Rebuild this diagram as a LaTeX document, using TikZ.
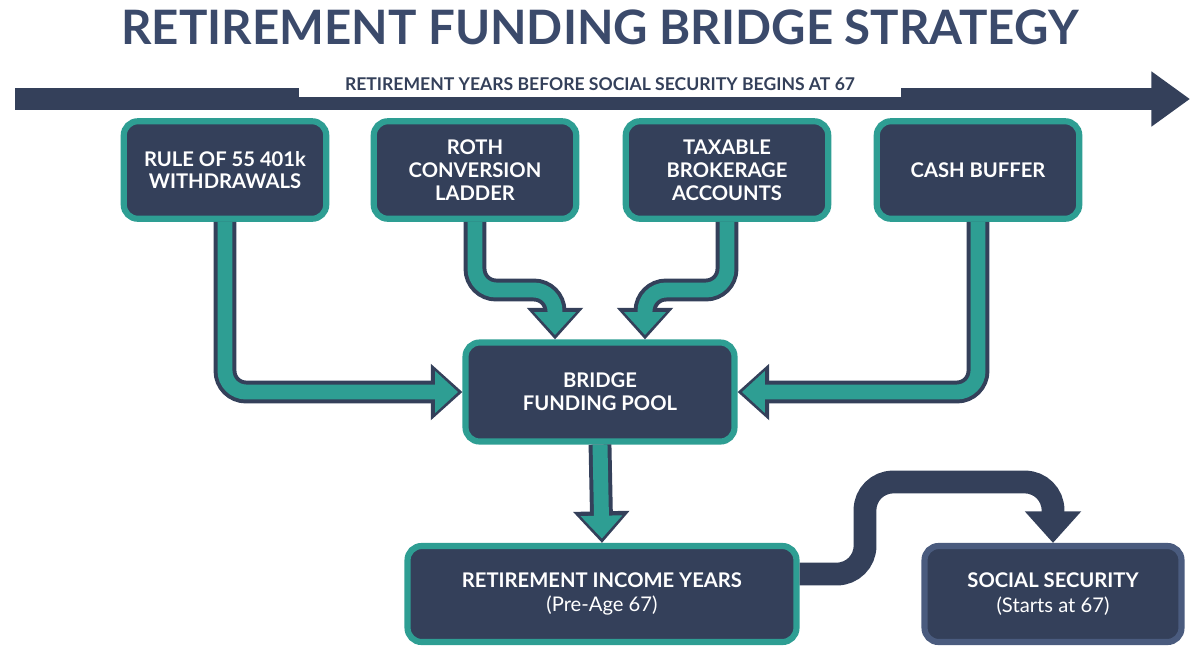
\documentclass[tikz,border=0pt]{standalone}
\usepackage{fontspec}
\setmainfont{Lato}
\usetikzlibrary{arrows.meta,positioning,calc}
\definecolor{navy}{HTML}{34405A}
\definecolor{titleblue}{HTML}{3B4A6B}
\definecolor{tealc}{HTML}{2E9E93}
\definecolor{edgeblue}{HTML}{4A5B7E}
\tikzset{>=stealth,
  box/.style={rounded corners=8pt, fill=navy, draw=tealc, line width=3.5pt,
    text=white, font=\bfseries\fontsize{11.5}{13}\selectfont, align=center},
  flowout/.style={draw=navy, line width=13pt, rounded corners=12pt,
    -{Triangle[width=31pt,length=18pt]}},
  flowin/.style={draw=tealc, line width=8.5pt, rounded corners=12pt,
    -{Triangle[width=23pt,length=13pt]}, shorten >=2.5pt},
}

\begin{document}
\begin{tikzpicture}[x=0.02cm,y=-0.02cm]
\useasboundingbox (0,0) rectangle (1200,654);
\node[text=titleblue, font=\bfseries\fontsize{27}{30}\selectfont] (title) at (600,27) {RETIREMENT FUNDING BRIDGE STRATEGY};
% timeline
\coordinate (tl0) at (15,99);
\coordinate (tl1) at (1190,99);
\draw[navy, line width=12.5pt, -{Triangle[width=30pt,length=22pt]}] (tl0) -- (tl1);
\node[fill=white, text=navy, font=\bfseries\fontsize{10}{12}\selectfont, minimum width=12.04cm, minimum height=0.5cm, inner sep=0pt] (tltext) at (600,84) {RETIREMENT YEARS BEFORE SOCIAL SECURITY BEGINS AT 67};
% sources
\node[box, minimum width=4.05cm, minimum height=1.95cm] (rule) at (225,170) {RULE OF 55 401k\\WITHDRAWALS};
\node[box, minimum width=4.05cm, minimum height=1.95cm] (roth) at (475,170) {ROTH\\CONVERSION\\LADDER};
\node[box, minimum width=4.05cm, minimum height=1.95cm] (tax) at (727,170) {TAXABLE\\BROKERAGE\\ACCOUNTS};
\node[box, minimum width=4.05cm, minimum height=1.95cm] (cash) at (978,170) {CASH BUFFER};
\node[box, minimum width=5.38cm, minimum height=1.98cm] (pool) at (600,392) {BRIDGE\\FUNDING POOL};
\node[box, minimum width=7.78cm, minimum height=1.92cm] (income) at (602,594) {RETIREMENT INCOME YEARS\\[1pt]{\mdseries (Pre-Age 67)}};
\node[box, draw=edgeblue, minimum width=5.14cm, minimum height=1.92cm] (social) at (1053,594) {SOCIAL SECURITY\\[1pt]{\mdseries (Starts at 67)}};
% flows
\coordinate (rj) at (555,290);
\coordinate (tj) at (645,290);
\foreach \sty in {flowout,flowin} {
  \draw[\sty] (rule.south) |- (pool.west);
  \draw[\sty] (cash.south) |- (pool.east);
  \draw[\sty] (roth.south) |- (rj) -- ([xshift=-0.9cm]pool.north);
  \draw[\sty] (tax.south) |- (tj) -- ([xshift=0.9cm]pool.north);
  \draw[\sty] (pool.south) -- (income.north);
}
\coordinate (s1) at (865,574);
\coordinate (s2) at (1053,482);
\draw[flowout, rounded corners=16pt] ([yshift=0.4cm]income.east) -- (s1) |- (s2) -- (social.north);
\end{tikzpicture}
\end{document}
